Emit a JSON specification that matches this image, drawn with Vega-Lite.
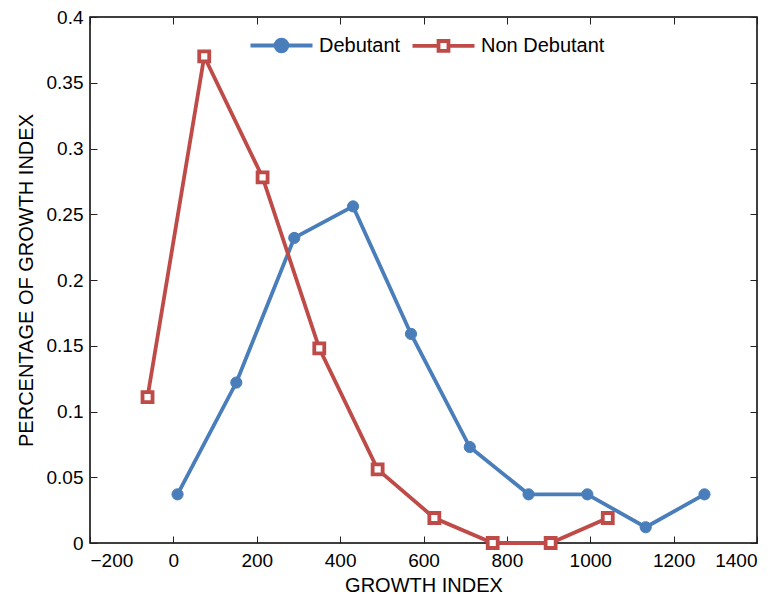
{
  "$schema": "https://vega.github.io/schema/vega-lite/v6.json",
  "width": 667,
  "height": 526,
  "autosize": {"type": "none"},
  "padding": {"left": 90, "top": 17, "right": 25, "bottom": 53},
  "background": "white",
  "config": {
    "font": "Liberation Sans",
    "view": {"stroke": "black", "strokeWidth": 1.5},
    "axis": {
      "grid": false,
      "domain": false,
      "tickColor": "#222222",
      "tickWidth": 1,
      "labelColor": "black",
      "titleColor": "black",
      "labelFont": "Liberation Sans",
      "titleFont": "Liberation Sans",
      "labelFontSize": 19,
      "titleFontSize": 20,
      "titleFontWeight": "normal"
    },
    "legend": {
      "title": null,
      "orient": "none",
      "legendX": 174,
      "legendY": 11,
      "direction": "horizontal",
      "padding": 0,
      "symbolSize": 961,
      "symbolStrokeWidth": 3.8,
      "labelOffset": 20,
      "columnPadding": 3,
      "labelFontSize": 20,
      "labelFont": "Liberation Sans",
      "labelColor": "black"
    }
  },
  "data": {
    "values": [
      {"series": "Debutant", "gi": 10, "pct": 0.037},
      {"series": "Debutant", "gi": 151, "pct": 0.122},
      {"series": "Debutant", "gi": 290, "pct": 0.232},
      {"series": "Debutant", "gi": 431, "pct": 0.256},
      {"series": "Debutant", "gi": 570, "pct": 0.159},
      {"series": "Debutant", "gi": 711, "pct": 0.073},
      {"series": "Debutant", "gi": 852, "pct": 0.037},
      {"series": "Debutant", "gi": 993, "pct": 0.037},
      {"series": "Debutant", "gi": 1133, "pct": 0.012},
      {"series": "Debutant", "gi": 1274, "pct": 0.037},
      {"series": "Non Debutant", "gi": -62, "pct": 0.111},
      {"series": "Non Debutant", "gi": 74, "pct": 0.370},
      {"series": "Non Debutant", "gi": 214, "pct": 0.278},
      {"series": "Non Debutant", "gi": 350, "pct": 0.148},
      {"series": "Non Debutant", "gi": 490, "pct": 0.056},
      {"series": "Non Debutant", "gi": 626, "pct": 0.019},
      {"series": "Non Debutant", "gi": 766, "pct": 0.0},
      {"series": "Non Debutant", "gi": 905, "pct": 0.0},
      {"series": "Non Debutant", "gi": 1042, "pct": 0.019}
    ]
  },
  "layer": [
    {
      "mark": {"type": "line", "strokeWidth": 3.8, "clip": false},
      "encoding": {
        "x": {
          "field": "gi", "type": "quantitative",
          "scale": {"domain": [-200, 1400], "nice": false, "zero": false},
          "axis": {"orient": "bottom", "title": "GROWTH INDEX", "values": [-200, 0, 200, 400, 600, 800, 1000, 1200, 1400], "format": "d", "tickSize": -7, "labelPadding": 15, "titlePadding": 5}
        },
        "y": {
          "field": "pct", "type": "quantitative",
          "scale": {"domain": [0, 0.4], "nice": false},
          "axis": {"orient": "left", "title": "PERCENTAGE OF GROWTH INDEX", "values": [0, 0.05, 0.1, 0.15, 0.2, 0.25, 0.3, 0.35, 0.4], "format": ".2~f", "tickSize": -7, "labelPadding": 14, "titlePadding": 10}
        },
        "stroke": {
          "field": "series", "type": "nominal",
          "scale": {"domain": ["Debutant", "Non Debutant"], "range": ["#4A7EBB", "#BE4B48"]},
          "legend": {
            "encode": {
              "symbols": {
                "update": {
                  "shape": {"signal": "datum.value === 'Debutant' ? 'M-2,0H2M-0.38,0A0.38,0.38,0,1,1,0.38,0A0.38,0.38,0,1,1,-0.38,0Z' : 'M-2,0H-0.32M0.32,0H2M-0.32,-0.32H0.32V0.32H-0.32Z'"},
                  "fill": {"signal": "datum.value === 'Debutant' ? '#4A7EBB' : 'white'"},
                  "fillOpacity": {"value": 1},
                  "strokeWidth": {"value": 3.8}
                }
              }
            }
          }
        },
        "detail": {"field": "series"}
      }
    },
    {
      "transform": [{"filter": "datum.series === 'Debutant'"}],
      "mark": {"type": "point", "shape": "circle", "size": 125, "filled": true, "fill": "#4A7EBB", "stroke": "#4A7EBB", "strokeWidth": 1, "opacity": 1, "clip": false},
      "encoding": {
        "x": {
          "field": "gi", "type": "quantitative",
          "axis": {"orient": "top", "title": null, "labels": false, "values": [-200, 0, 200, 400, 600, 800, 1000, 1200, 1400], "tickSize": -7}
        },
        "y": {
          "field": "pct", "type": "quantitative",
          "axis": {"orient": "right", "title": null, "labels": false, "values": [0, 0.05, 0.1, 0.15, 0.2, 0.25, 0.3, 0.35, 0.4], "tickSize": -7}
        }
      }
    },
    {
      "transform": [{"filter": "datum.series === 'Non Debutant'"}],
      "mark": {"type": "point", "shape": "square", "size": 100, "filled": false, "fill": "white", "fillOpacity": 1, "stroke": "#BE4B48", "strokeWidth": 3.8, "opacity": 1, "clip": false},
      "encoding": {
        "x": {"field": "gi", "type": "quantitative", "axis": null},
        "y": {"field": "pct", "type": "quantitative", "axis": null}
      }
    }
  ],
  "resolve": {"axis": {"x": "independent", "y": "independent"}}
}
